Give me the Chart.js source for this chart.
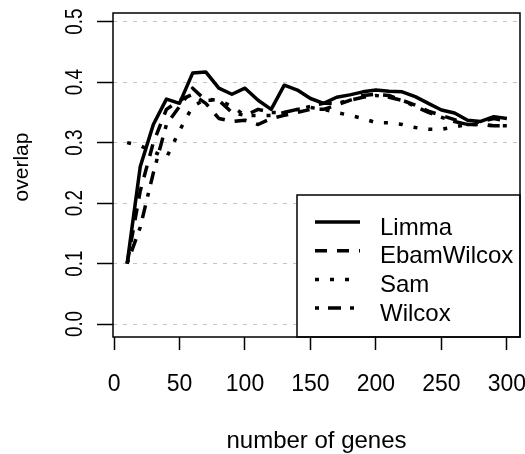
<!DOCTYPE html>
<html><head><meta charset="utf-8">
<script src="https://cdn.jsdelivr.net/npm/chart.js@4.4.1/dist/chart.umd.min.js"></script>
<style>html,body{margin:0;padding:0;background:#fff;overflow:hidden}#wrap{width:525px;height:454px;position:relative}</style>
</head><body><div id="wrap"><canvas id="c" width="525" height="454"></canvas></div>
<script>
const numGenes = [10,20,30,40,50,60,70,80,90,100,110,120,130,140,150,160,170,180,190,200,210,220,230,240,250,260,270,280,290,300];
const limma      = [0.10,0.26,0.33,0.372,0.365,0.415,0.417,0.39,0.38,0.39,0.37,0.355,0.395,0.387,0.373,0.365,0.375,0.379,0.384,0.387,0.385,0.384,0.376,0.365,0.354,0.349,0.337,0.335,0.343,0.34];
const ebamWilcox = [0.10,0.22,0.30,0.355,0.37,0.38,0.365,0.34,0.335,0.337,0.33,0.34,0.345,0.35,0.355,0.355,0.362,0.37,0.378,0.38,0.378,0.37,0.362,0.352,0.345,0.338,0.33,0.33,0.328,0.328];
const sam        = [0.30,0.295,0.285,0.275,0.32,0.36,0.372,0.37,0.36,0.345,0.345,0.345,0.35,0.355,0.358,0.355,0.35,0.345,0.34,0.333,0.333,0.33,0.325,0.322,0.322,0.326,0.33,0.33,0.328,0.328];
const wilcox     = [0.10,0.16,0.25,0.33,0.36,0.39,0.37,0.37,0.35,0.345,0.355,0.35,0.35,0.355,0.36,0.365,0.365,0.37,0.375,0.378,0.375,0.37,0.36,0.35,0.342,0.335,0.33,0.335,0.34,0.335];
const seriesNames = ['Limma','EbamWilcox','Sam','Wilcox'];
const xTicks = [0,50,100,150,200,250,300];
const xTickLabels = ['0','50','100','150','200','250','300'];
const yTicks = [0,0.1,0.2,0.3,0.4,0.5];
const yTickLabels = ['0.0','0.1','0.2','0.3','0.4','0.5'];
const xTitle = 'number of genes';
const yTitle = 'overlap';

const seriesValues = [limma, ebamWilcox, sam, wilcox];
const dashes = [[], [12,10], [4,11], [4,9,13,9]];
const FONT = '"Liberation Sans", Arial, sans-serif';

const datasets = seriesValues.map((vals, i) => ({
  label: seriesNames[i],
  data: numGenes.map((g, j) => ({x: g, y: vals[j]})),
  borderColor: '#000',
  borderWidth: 3.5,
  borderDash: dashes[i],
  borderCapStyle: 'butt',
  borderJoinStyle: 'round',
  pointRadius: 0,
  tension: 0,
  fill: false
}));

const overlay = {
  id: 'overlay',
  afterDatasetsDraw(chart) {
    const {ctx, chartArea: a} = chart;
    ctx.save();
    const lx = 297, ly = 195;
    ctx.fillStyle = '#fff';
    ctx.fillRect(lx, ly, a.right - lx, a.bottom - ly);
    ctx.strokeStyle = '#000';
    ctx.lineWidth = 1.5;
    ctx.strokeRect(lx, ly, a.right - lx, a.bottom - ly);
    ctx.font = '24px ' + FONT;
    ctx.fillStyle = '#000';
    ctx.textAlign = 'left';
    ctx.textBaseline = 'alphabetic';
    chart.data.datasets.forEach((ds, i) => {
      const yy = ly + 27 + i * 28.7;
      ctx.save();
      ctx.lineWidth = 3.5;
      ctx.lineCap = 'butt';
      ctx.setLineDash(ds.borderDash);
      ctx.beginPath();
      ctx.moveTo(315, yy);
      ctx.lineTo(360, yy);
      ctx.stroke();
      ctx.restore();
      ctx.fillText(ds.label, 380, yy + 12.5);
    });
    ctx.setLineDash([]);
    ctx.lineWidth = 1.5;
    ctx.strokeRect(a.left, a.top, a.right - a.left, a.bottom - a.top);
    ctx.restore();
  },
  afterDraw(chart) {
    const {ctx, chartArea: a, scales: {x, y}} = chart;
    ctx.save();
    ctx.fillStyle = '#000';
    ctx.font = '23px ' + FONT;
    ctx.textAlign = 'center';
    ctx.textBaseline = 'alphabetic';
    xTicks.forEach((v, i) => ctx.fillText(xTickLabels[i], x.getPixelForValue(v), 391));
    yTicks.forEach((v, i) => {
      ctx.save();
      ctx.translate(82, y.getPixelForValue(v));
      ctx.rotate(-Math.PI / 2);
      ctx.scale(0.82, 1);
      ctx.fillText(yTickLabels[i], 0, 0);
      ctx.restore();
    });
    ctx.font = '24px ' + FONT;
    ctx.fillText(xTitle, (a.left + a.right) / 2, 448);
    ctx.save();
    ctx.font = '21px ' + FONT;
    ctx.translate(28, 167);
    ctx.rotate(-Math.PI / 2);
    ctx.fillText(yTitle, 0, 0);
    ctx.restore();
    ctx.restore();
  }
};

new Chart(document.getElementById('c'), {
  type: 'line',
  data: { datasets },
  options: {
    responsive: false,
    animation: false,
    devicePixelRatio: 1,
    layout: { padding: { top: 13, right: 5, left: 0, bottom: 0 } },
    plugins: { legend: { display: false }, tooltip: { enabled: false } },
    scales: {
      x: {
        type: 'linear', min: -0.8, max: 310,
        afterBuildTicks: s => { s.ticks = xTicks.map(v => ({value: v})); },
        afterFit: s => { s.height = 117; },
        ticks: { display: false },
        grid: { drawOnChartArea: false, drawTicks: true, tickLength: 13, tickColor: '#000', tickWidth: 1.5, tickBorderDash: [] },
        border: { display: false }
      },
      y: {
        type: 'linear', min: -0.0215, max: 0.5144,
        afterBuildTicks: s => { s.ticks = yTicks.map(v => ({value: v})); },
        afterFit: s => { s.width = 113; },
        ticks: { display: false },
        grid: { drawOnChartArea: true, color: '#c4c4c4', lineWidth: 1, drawTicks: true, tickLength: 16, tickColor: '#000', tickWidth: 1.5, tickBorderDash: [] },
        border: { display: false, dash: [4, 6] }
      }
    }
  },
  plugins: [overlay]
});
</script></body></html>
